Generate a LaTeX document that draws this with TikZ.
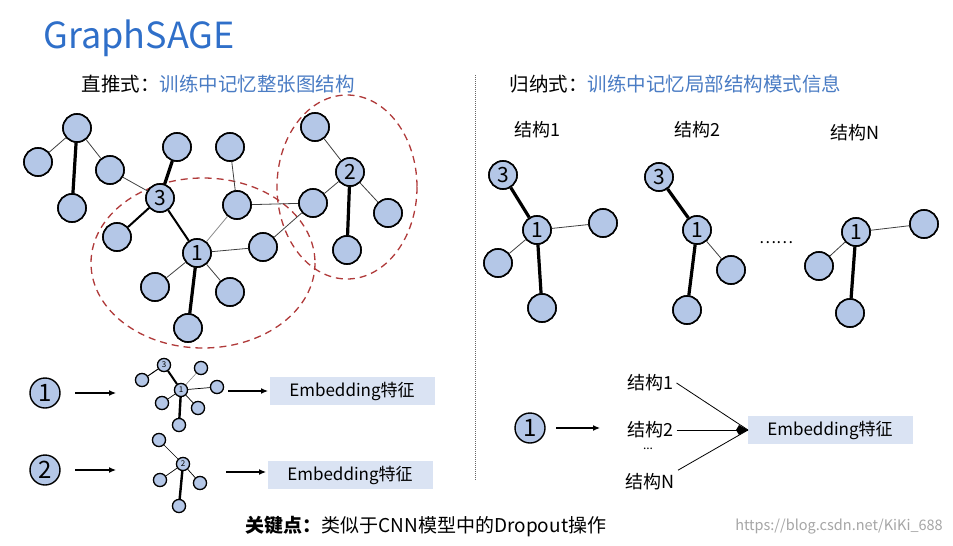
\documentclass[tikz,border=0pt]{standalone}
\usepackage{fontspec}
\setmainfont{Noto Sans CJK SC}
\usetikzlibrary{arrows.meta}
\definecolor{nodefill}{HTML}{B4C7E7}
\definecolor{titleblue}{HTML}{2F6FC9}
\definecolor{txtblue}{HTML}{4A7CC4}
\definecolor{boxfill}{HTML}{DAE3F3}
\definecolor{dred}{HTML}{B03A3A}
\tikzset{
 gn/.style={circle,draw=black,line width=1.6pt,fill=nodefill,minimum size=28pt,inner sep=0pt,font=\fontsize{21}{21}\selectfont},
 sn/.style={circle,draw=black,line width=1.2pt,fill=nodefill,minimum size=13pt,inner sep=0pt,font=\fontsize{8}{8}\selectfont},
 thin e/.style={line width=0.8pt,black!75},
 thick e/.style={line width=3.2pt},
 mid e/.style={line width=2pt},
 sthick/.style={line width=2pt},
 arr/.style={-{Latex[length=7pt,width=6pt]},line width=1.2pt},
 emb/.style={fill=boxfill,minimum width=165pt,minimum height=28pt,font=\fontsize{17}{17}\selectfont},
 lab/.style={font=\fontsize{18}{18}\selectfont},
 circnum/.style={circle,draw=black,line width=1.4pt,fill=nodefill,minimum size=30pt,inner sep=0pt,font=\fontsize{24}{24}\selectfont}
}
\begin{document}
\begin{tikzpicture}[x=1pt,y=-1pt]
\useasboundingbox (0,0) rectangle (953,546);
\fill[white] (0,0) rectangle (953,546);
\node[anchor=west,text=titleblue,font=\fontsize{36}{36}\selectfont] (title) at (40,38) {GraphSAGE};
\node[anchor=west,font=\fontsize{19.5}{19.5}\selectfont] (t1) at (78,84) {直推式：\textcolor{txtblue}{训练中记忆整张图结构}};
\node[anchor=west,font=\fontsize{19.5}{19.5}\selectfont] (t2) at (506,84) {归纳式：\textcolor{txtblue}{训练中记忆局部结构模式信息}};
\coordinate (d1) at (475,75); \coordinate (d2) at (475,480);
\draw[densely dotted,line width=1pt,black!60] (d1) -- (d2);
% left big graph
\draw[dashed,dred,line width=1.3pt,dash pattern=on 7pt off 5pt] (203,263) ellipse (112 and 85);
\draw[dashed,dred,line width=1.3pt,dash pattern=on 7pt off 5pt] (347,187) ellipse (70 and 92);
\node[gn] (h) at (77,128) {};
\node[gn] (hl) at (38,162) {};
\node[gn] (hb) at (72,208) {};
\node[gn] (hr) at (110,170) {};
\node[gn] (n3) at (160,198) {3};
\node[gn] (n3t) at (177,147) {};
\node[gn] (n3l) at (117,237) {};
\node[gn] (n1) at (197,253) {1};
\node[gn] (n1lb) at (155,287) {};
\node[gn] (n1b) at (188,328) {};
\node[gn] (n1rb) at (230,292) {};
\node[gn] (n1r) at (263,247) {};
\node[gn] (tt) at (230,147) {};
\node[gn] (tm) at (237,205) {};
\node[gn] (c2t) at (315,127) {};
\node[gn] (n2) at (350,172) {2};
\node[gn] (c2l) at (313,203) {};
\node[gn] (c2r) at (388,213) {};
\node[gn] (c2b) at (347,250) {};
\path (h) edge[thin e] (hl) edge[thick e] (hb) edge[thin e] (hr)
 (hr) edge[thin e] (n3) (n3) edge[thick e] (n3t) edge[mid e] (n3l) edge[mid e] (n1)
 (n1) edge[thin e,black!45] (tm) edge[thin e] (n1r) edge[thin e] (n1lb) edge[thick e] (n1b) edge[thin e] (n1rb)
 (tt) edge[thin e] (tm) (tm) edge[thin e] (c2l) (n1r) edge[thin e] (c2l)
 (c2l) edge[thin e] (n2) (c2t) edge[thin e] (n2) (n2) edge[thin e] (c2r) edge[thick e] (c2b);
\foreach \n in {h,hl,hb,hr,n3t,n3l,n1lb,n1b,n1rb,n1r,tt,tm,c2t,c2l,c2r,c2b}{\node[gn] at (\n) {};}
\node[gn] at (n3) {3};
\node[gn] at (n1) {1};
\node[gn] at (n2) {2};
% right structures
\node[lab] (s1) at (537,130) {结构1};
\node[lab] (s2) at (697,130) {结构2};
\node[lab] (sn) at (855,133) {结构N};
\node[gn] (a3) at (503,175) {3};
\node[gn] (a1) at (537,230) {1};
\node[gn] (ar) at (603,223) {};
\node[gn] (al) at (498,263) {};
\node[gn] (ab) at (542,308) {};
\node[gn] (b3) at (659,177) {3};
\node[gn] (b1) at (697,230) {1};
\node[gn] (brb) at (731,270) {};
\node[gn] (bb) at (687,310) {};
\node[gn] (c1) at (856,232) {1};
\node[gn] (cr) at (924,224) {};
\node[gn] (cl) at (819,266) {};
\node[gn] (cb) at (850,313) {};
\path (a3) edge[thick e] (a1) (a1) edge[thin e] (ar) edge[thin e] (al) edge[thick e] (ab)
 (b3) edge[thick e] (b1) (b1) edge[thin e] (brb) edge[thick e] (bb)
 (c1) edge[thin e] (cr) edge[thin e] (cl) edge[thick e] (cb);
\node[gn] at (a3) {3}; \node[gn] at (a1) {1}; \node[gn] at (ar) {}; \node[gn] at (al) {}; \node[gn] at (ab) {};
\node[gn] at (b3) {3}; \node[gn] at (b1) {1}; \node[gn] at (brb) {}; \node[gn] at (bb) {};
\node[gn] at (c1) {1}; \node[gn] at (cr) {}; \node[gn] at (cl) {}; \node[gn] at (cb) {};
\node[font=\fontsize{16}{16}\selectfont] (dots) at (776,243) {……};
% bottom left row 1
\node[circnum] (r1) at (45,393) {1};
\coordinate (r1a) at (75,393); \coordinate (r1b) at (116,393);
\draw[arr] (r1a) -- (r1b);
\node[sn] (m3) at (164,365) {3};
\node[sn] (m3l) at (142,380) {};
\node[sn] (m1) at (181,390) {1};
\node[sn] (mtr) at (201,368) {};
\node[sn] (mr) at (217,387) {};
\node[sn] (mlb) at (162,403) {};
\node[sn] (mrb) at (198,408) {};
\node[sn] (mb) at (179,425) {};
\path (m3) edge[line width=1pt] (m3l) edge[sthick] (m1)
 (m1) edge[line width=0.5pt,black!50] (mtr) edge[line width=0.7pt] (mr) edge[line width=0.7pt] (mlb) edge[line width=0.7pt] (mrb) edge[line width=2.4pt] (mb);
\foreach \n in {m3l,mtr,mr,mlb,mrb,mb}{\node[sn] at (\n) {};}
\node[sn] at (m3) {3}; \node[sn] at (m1) {1};
\coordinate (e1a) at (228,391); \coordinate (e1b) at (268,391);
\draw[arr] (e1a) -- (e1b);
\node[emb] (emb1) at (352,391) {Embedding特征};
% row 2
\node[circnum] (r2) at (45,470) {2};
\coordinate (r2a) at (75,470); \coordinate (r2b) at (116,470);
\draw[arr] (r2a) -- (r2b);
\node[sn] (qt) at (159,440) {};
\node[sn] (q2) at (183,464) {2};
\node[sn] (ql) at (160,480) {};
\node[sn] (qr) at (200,483) {};
\node[sn] (qb) at (179,506) {};
\path (qt) edge[line width=0.7pt] (q2) (q2) edge[line width=0.7pt] (ql) edge[line width=0.7pt] (qr) edge[line width=2.4pt] (qb);
\foreach \n in {qt,ql,qr,qb}{\node[sn] at (\n) {};}
\node[sn] at (q2) {2};
\coordinate (e2a) at (226,472); \coordinate (e2b) at (266,472);
\draw[arr] (e2a) -- (e2b);
\node[emb] (emb2) at (350,475) {Embedding特征};
% bottom right
\node[circnum] (r3) at (530,428) {1};
\coordinate (r3a) at (556,428); \coordinate (r3b) at (600,428);
\draw[arr] (r3a) -- (r3b);
\node[lab] (k1) at (650,383) {结构1};
\node[lab] (k2) at (650,430) {结构2};
\node[font=\fontsize{12}{12}\selectfont] (kd) at (648,449) {...};
\node[lab] (kn) at (650,482) {结构N};
\node[emb] (emb3) at (830,430) {Embedding特征};
\coordinate (m) at (748,430);
\draw[thin e,black] (k1.east) -- (m);
\draw[thin e,black] (k2.east) -- (m);
\draw[thin e,black] (kn.north east) -- (m);
\fill (m) -- ++(-9,-5) -- ++(-3,5) -- ++(3,5) -- cycle;
\node[font=\fontsize{19}{19}\selectfont] (key) at (426,527) {\textbf{关键点：}类似于CNN模型中的Dropout操作};
\node[font=\fontsize{14.5}{14.5}\selectfont,text=black!35] (wm) at (839,527) {https://blog.csdn.net/KiKi\_688};
\end{tikzpicture}
\end{document}
